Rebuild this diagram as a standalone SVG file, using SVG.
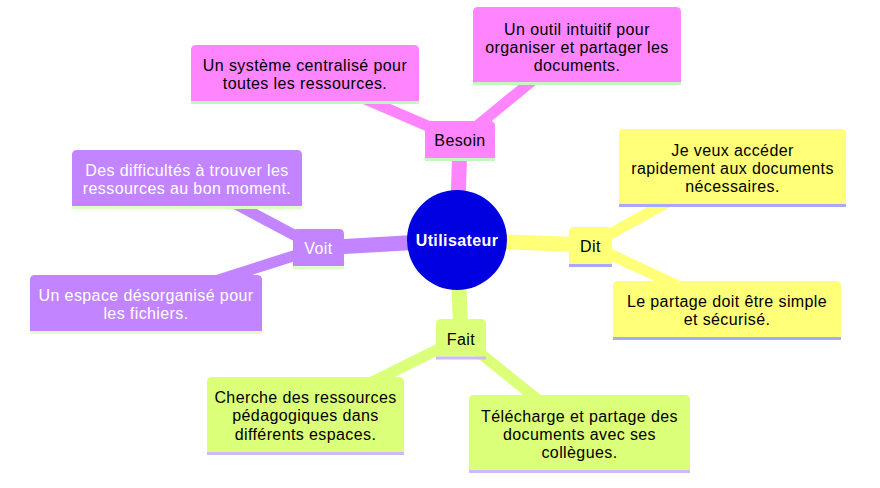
<svg xmlns="http://www.w3.org/2000/svg" width="880" height="488" viewBox="0 0 880 488">
<style>
text{font-family:"Liberation Sans",Arial,sans-serif;font-size:16px;letter-spacing:0.4px;text-anchor:middle;fill:#000}
.w{fill:#fff}
.e1{stroke-width:15;stroke-linecap:butt;fill:none}
.e2{stroke-width:11;stroke-linecap:butt;fill:none}
.sb{fill:#ff85ff}.sbs{stroke:#ff85ff}
.sv{fill:#c285ff}.svs{stroke:#c285ff}
.sd{fill:#ffff78}.sds{stroke:#ffff78}
.sf{fill:#dcff7a}.sfs{stroke:#dcff7a}
.ln{stroke-width:3}
.lb{stroke:#c2f7c2}.lv{stroke:#e0ffc8}.ld{stroke:#a8a8ff}.lf{stroke:#d0b8ff}
</style>
<rect width="880" height="488" fill="#fff"/>
<g id="connectors">
<line class="e1 sbs" x1="457" y1="240" x2="460" y2="140"/>
<line class="e1 svs" x1="457" y1="240" x2="318.5" y2="248"/>
<line class="e1 sds" x1="457" y1="240" x2="590.5" y2="245"/>
<line class="e1 sfs" x1="457" y1="240" x2="461" y2="338"/>
<line class="e2 sbs" x1="460" y1="140" x2="305" y2="73"/>
<line class="e2 sbs" x1="460" y1="140" x2="577" y2="44"/>
<line class="e2 svs" x1="318.5" y1="248" x2="187" y2="178"/>
<line class="e2 svs" x1="318.5" y1="248" x2="146" y2="303"/>
<line class="e2 sds" x1="590.5" y1="245" x2="732.5" y2="166"/>
<line class="e2 sds" x1="590.5" y1="245" x2="727" y2="309"/>
<line class="e2 sfs" x1="461" y1="338" x2="305.5" y2="415"/>
<line class="e2 sfs" x1="461" y1="338" x2="579.5" y2="433"/>
</g>
<g id="root">
<circle cx="457" cy="240" r="50" fill="#0000e0"/>
<text class="w" x="457" y="246" font-weight="bold">Utilisateur</text>
</g>
<g id="besoin">
<path class="sb" d="M425,158V126Q425,121 430,121H490Q495,121 495,126V158Z"/>
<line class="ln lb" x1="425" y1="159.5" x2="495" y2="159.5"/>
<text x="460" y="146">Besoin</text>
</g>
<g id="besoin1">
<path class="sb" d="M191,101V50Q191,45 196,45H414Q419,45 419,50V101Z"/>
<line class="ln lb" x1="191" y1="102.5" x2="419" y2="102.5"/>
<text x="305" y="71">Un système centralisé pour</text>
<text x="305" y="89">toutes les ressources.</text>
</g>
<g id="besoin2">
<path class="sb" d="M473,82V12Q473,7 478,7H676Q681,7 681,12V82Z"/>
<line class="ln lb" x1="473" y1="83.5" x2="681" y2="83.5"/>
<text x="577" y="34.5">Un outil intuitif pour</text>
<text x="577" y="52.5">organiser et partager les</text>
<text x="577" y="70.5">documents.</text>
</g>
<g id="voit">
<path class="sv" d="M293,266V234Q293,229 298,229H339Q344,229 344,234V266Z"/>
<line class="ln lv" x1="293" y1="267.5" x2="344" y2="267.5"/>
<text class="w" x="318.5" y="253.5">Voit</text>
</g>
<g id="voit1">
<path class="sv" d="M72,206V155Q72,150 77,150H297Q302,150 302,155V206Z"/>
<line class="ln lv" x1="72" y1="207.5" x2="302" y2="207.5"/>
<text class="w" x="187" y="176">Des difficultés à trouver les</text>
<text class="w" x="187" y="194">ressources au bon moment.</text>
</g>
<g id="voit2">
<path class="sv" d="M30,331V280Q30,275 35,275H257Q262,275 262,280V331Z"/>
<line class="ln lv" x1="30" y1="332.5" x2="262" y2="332.5"/>
<text class="w" x="146" y="301">Un espace désorganisé pour</text>
<text class="w" x="146" y="319">les fichiers.</text>
</g>
<g id="dit">
<path class="sd" d="M569,264V232Q569,227 574,227H607Q612,227 612,232V264Z"/>
<line class="ln ld" x1="569" y1="265.5" x2="612" y2="265.5"/>
<text x="590.5" y="252">Dit</text>
</g>
<g id="dit1">
<path class="sd" d="M619,204V134Q619,129 624,129H841Q846,129 846,134V204Z"/>
<line class="ln ld" x1="619" y1="205.5" x2="846" y2="205.5"/>
<text x="732.5" y="156">Je veux accéder</text>
<text x="732.5" y="174">rapidement aux documents</text>
<text x="732.5" y="192">nécessaires.</text>
</g>
<g id="dit2">
<path class="sd" d="M613,337V286Q613,281 618,281H836Q841,281 841,286V337Z"/>
<line class="ln ld" x1="613" y1="338.5" x2="841" y2="338.5"/>
<text x="727" y="307">Le partage doit être simple</text>
<text x="727" y="325">et sécurisé.</text>
</g>
<g id="fait">
<path class="sf" d="M436,356.5V324Q436,319 441,319H481Q486,319 486,324V356.5Z"/>
<line class="ln lf" x1="436" y1="358" x2="486" y2="358"/>
<text x="461" y="345">Fait</text>
</g>
<g id="fait1">
<path class="sf" d="M207,452V382Q207,377 212,377H399Q404,377 404,382V452Z"/>
<line class="ln lf" x1="207" y1="453.5" x2="404" y2="453.5"/>
<text x="305.5" y="403">Cherche des ressources</text>
<text x="305.5" y="421">pédagogiques dans</text>
<text x="305.5" y="439.5">différents espaces.</text>
</g>
<g id="fait2">
<path class="sf" d="M469,470V400Q469,395 474,395H685Q690,395 690,400V470Z"/>
<line class="ln lf" x1="469" y1="471.5" x2="690" y2="471.5"/>
<text x="579.5" y="421.5">Télécharge et partage des</text>
<text x="579.5" y="439.5">documents avec ses</text>
<text x="579.5" y="457.5">collègues.</text>
</g>
</svg>
